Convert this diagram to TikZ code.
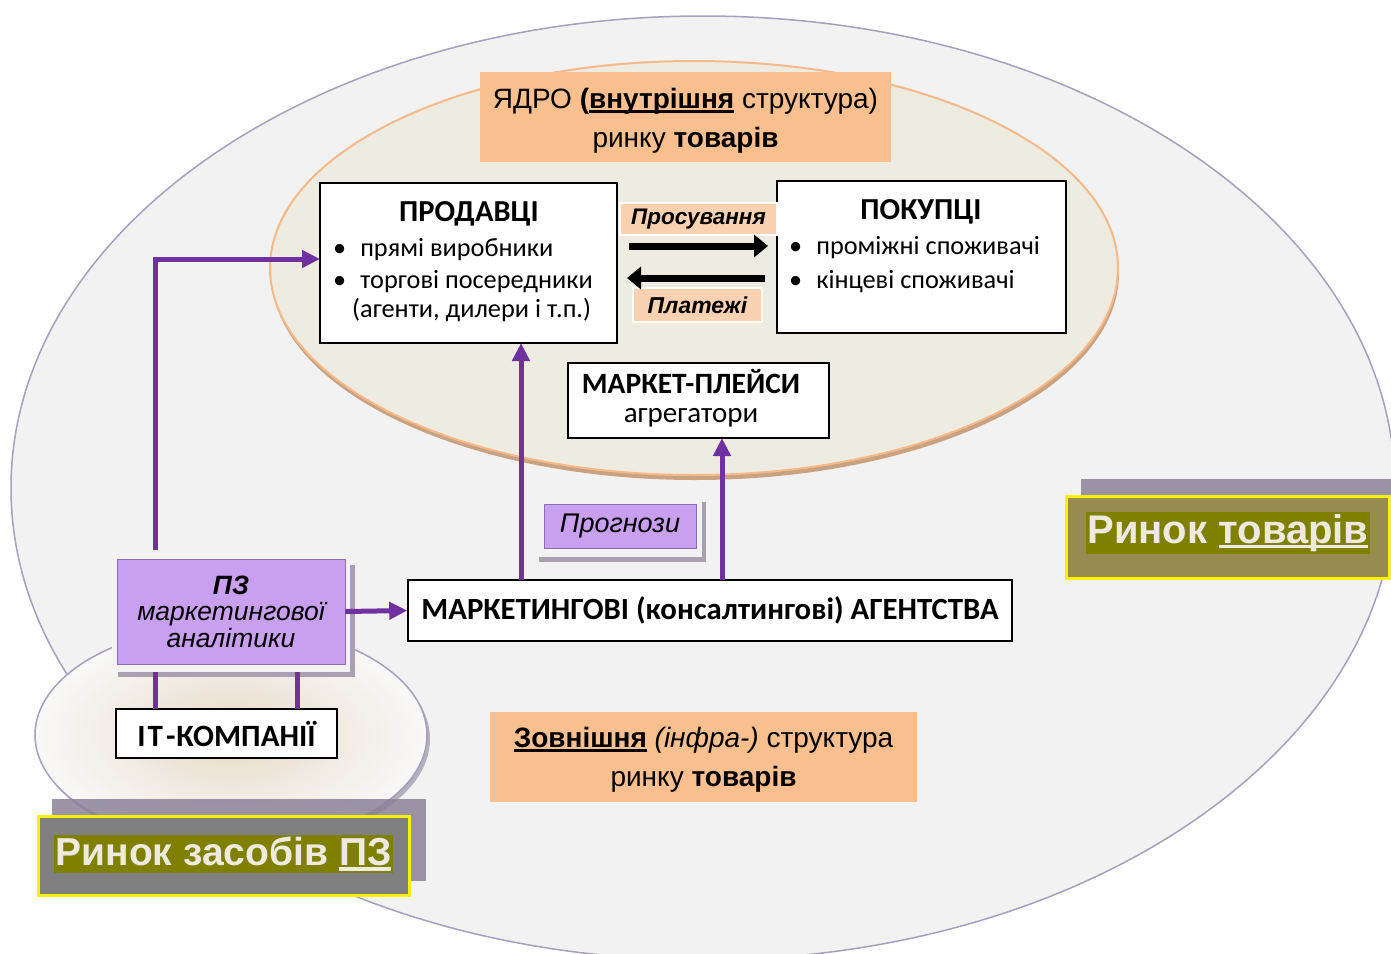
\documentclass[tikz,border=0pt]{standalone}
\usepackage{fontspec}
\setmainfont{Liberation Sans}
\newfontfamily\calfont{Carlito}
\usetikzlibrary{arrows.meta}
\newcommand\thickul[3]{\setbox0\hbox{#3}\leavevmode\rlap{\raisebox{-#1}{\rule{\wd0}{#2}}}\box0}
\definecolor{outerfill}{HTML}{F2F2F2}
\definecolor{outerline}{HTML}{A89FBF}
\definecolor{corefill}{HTML}{EEEBE0}
\definecolor{coreline}{HTML}{F7B98A}
\definecolor{coreshadow}{HTML}{C9A282}
\definecolor{peach}{HTML}{F9BF8F}
\definecolor{lpeach}{HTML}{FAD2B2}
\definecolor{lilac}{HTML}{C9A0F0}
\definecolor{lilacline}{HTML}{8E6CB4}
\definecolor{apurple}{HTML}{7030A0}
\definecolor{olivehl}{HTML}{808000}
\definecolor{olivebox}{HTML}{968C52}
\definecolor{cream}{HTML}{EEEADF}
\definecolor{graybox}{HTML}{808080}
\definecolor{shadowgray}{HTML}{8C8299}
\definecolor{frameshadow}{HTML}{A9A1B2}
\begin{document}
\begin{tikzpicture}[x=1pt,y=-1pt,
  whitebox/.style={draw=black, line width=1.6pt, fill=white},
  peachbox/.style={fill=peach},
  lbl/.style={fill=lpeach, draw=white, line width=1.5pt},
  parrow/.style={draw=apurple, line width=5pt, -{Triangle[length=18pt,width=17pt]}},
  pline/.style={draw=apurple, line width=5pt},
  barrow/.style={draw=black, line width=7pt, -{Triangle[length=14pt,width=22pt]}},
  title/.style={font=\calfont\bfseries\fontsize{30.5}{34}\selectfont, inner sep=0pt},
  item/.style={font=\calfont\fontsize{26.3}{30}\selectfont, inner sep=0pt, anchor=west},
  yel/.style={draw=yellow, line width=3pt},
  bigtxt/.style={font=\bfseries\fontsize{40}{46}\selectfont, text=cream, inner sep=0pt}
]
\useasboundingbox (0,0) rectangle (1391,953);
\clip (0,0) rectangle (1391,953);
\fill[white] (0,0) rectangle (1391,953);

% outer ellipse
\draw[fill=outerfill, draw=outerline, line width=1.5pt] (703,488) ellipse [x radius=692, y radius=472];

% core ellipse
\fill[coreshadow] (695,273) ellipse [x radius=424, y radius=207];
\draw[fill=corefill, draw=coreline, line width=2pt] (694,268) ellipse [x radius=424, y radius=207];

% small ellipse
\fill[outerline!70!black, opacity=0.5] (234,739) ellipse [x radius=196, y radius=110];
\shade[inner color=corefill!80!brown!90, outer color=outerfill!50!white] (231,735) ellipse [x radius=196, y radius=110];
\draw[outerline, line width=1.5pt] (231,735) ellipse [x radius=196, y radius=110];

% title core
\fill[peach] (480,72) rectangle (891,162);
\node[inner sep=0pt, align=center, font=\fontsize{28}{39}\selectfont] (core) at (685.5,121)
  {ЯДРО \textbf{(\thickul{4pt}{2.4pt}{внутрішня}} структура)\\ринку \textbf{товарів}};

% sellers
\draw[whitebox] (320,183) rectangle (617,343);
\coordinate (sellW) at (320,259);
\coordinate (sellS) at (521,343);
\node[title] (sellT) at (469,214) {ПРОДАВЦІ};
\node[item] (s1) at (333,250) {\textbullet\hspace{14pt}прямі виробники};
\node[item] (s2) at (333,282) {\textbullet\hspace{14pt}торгові посередники};
\node[item] (s3) at (352,310) {(агенти, дилери і т.п.)};

% buyers
\draw[whitebox] (777,181) rectangle (1066,333);
\node[title] (buyT) at (921,212) {ПОКУПЦІ};
\node[item] (b1) at (789,248) {\textbullet\hspace{14pt}проміжні споживачі};
\node[item] (b2) at (789,282) {\textbullet\hspace{14pt}кінцеві споживачі};

% labels and black arrows
\node[lbl, minimum width=157pt, minimum height=32pt, inner sep=0pt,
  font=\bfseries\itshape\fontsize{22.5}{26}\selectfont] (prom) at (698.5,219) {Просування};
\node[lbl, minimum width=129pt, minimum height=34pt, inner sep=0pt,
  font=\bfseries\itshape\fontsize{23}{26}\selectfont] (pay) at (697.5,305) {Платежі};
\coordinate (ra1) at (629,246);
\coordinate (ra2) at (768,246);
\coordinate (la1) at (765,278);
\coordinate (la2) at (627,278);
\draw[barrow] (ra1) -- (ra2);
\draw[barrow] (la1) -- (la2);

% marketplaces
\node[whitebox, minimum width=261pt, minimum height=75pt, inner sep=0pt] (mp) at (698.5,400.5) {};
\node[title, anchor=base, font=\calfont\bfseries\fontsize{29.5}{33}\selectfont] (mpT) at (691,393) {МАРКЕТ-ПЛЕЙСИ};
\node[inner sep=0pt, anchor=base, font=\calfont\fontsize{29}{33}\selectfont] (mpS) at (691,422) {агрегатори};
\coordinate (mpB) at (722,438);

% forecasts
\fill[frameshadow] (539,502) rectangle (706,562);
\fill[outerfill] (535,498) rectangle (702,557);
\node[fill=lilac, draw=lilacline, line width=1pt, minimum width=152pt, minimum height=44pt, inner sep=0pt,
  font=\itshape\fontsize{27}{30}\selectfont] (prog) at (620,526) {Прогнози};

% agencies
\node[whitebox, minimum width=604pt, minimum height=61pt, inner sep=0pt,
  font=\calfont\bfseries\fontsize{30.8}{34}\selectfont] (ag) at (710,610.5) {МАРКЕТИНГОВІ (консалтингові) АГЕНТСТВА};
\coordinate (agA) at (521,580);
\coordinate (agB) at (722,580);

% PZ box
\fill[frameshadow] (118,565) rectangle (355,677);
\fill[outerfill] (112,555) rectangle (350,672);
\node[fill=lilac, draw=lilacline, line width=0.8pt, minimum width=228pt, minimum height=105pt, inner sep=0pt,
  align=center, font=\itshape\fontsize{26.5}{26.5}\selectfont] (pz) at (231,611.5)
  {\textbf{ПЗ}\\маркетингової\\аналітики};
\coordinate (pzTop) at (155,550);
\coordinate (pzB1) at (155,672);
\coordinate (pzB2) at (297,672);

% IT companies
\node[whitebox, minimum width=221pt, minimum height=49pt, inner sep=0pt,
  font=\calfont\bfseries\fontsize{31}{34}\selectfont] (it) at (226.5,733.5) {І\hspace{2pt}Т\hspace{3pt}-\hspace{1pt}КОМПАНІЇ};
\coordinate (it1) at (155,709);
\coordinate (it2) at (297,709);

% purple connectors
\draw[parrow] (pzTop) |- (sellW);
\draw[parrow] (agA) -- (sellS);
\draw[parrow] (agB) -- (mpB);
\draw[parrow] (pz.east) -- (ag.west);
\draw[pline] (pzB1) -- (it1);
\draw[pline] (pzB2) -- (it2);

% external structure
\fill[peach] (490,712) rectangle (917,802);
\node[inner sep=0pt, align=center, font=\fontsize{28}{39}\selectfont] (ext) at (703.5,760)
  {\textbf{\thickul{4pt}{2.4pt}{Зовнішня}} {\itshape(інфра-)} структура\\ринку \textbf{товарів}};

% Market of goods
\fill[shadowgray, opacity=0.85] (1081,479) rectangle (1400,565);
\node[fill=olivebox, yel, minimum width=323pt, minimum height=82pt, inner sep=0pt] (mg) at (1228,537) {};
\node[bigtxt] (mgT) at (1228,533) {\setlength{\fboxsep}{2pt}\colorbox{olivehl}{Ринок \thickul{5pt}{3.5pt}{товарів}}};

% Market of software
\fill[shadowgray, opacity=0.85] (52,799) rectangle (426,881);
\node[fill=graybox, yel, minimum width=371pt, minimum height=79pt, inner sep=0pt] (ms) at (223.5,855.5) {};
\node[bigtxt, font=\bfseries\fontsize{39}{45}\selectfont] (msT) at (223.5,854) {\setlength{\fboxsep}{2pt}\colorbox{olivehl}{Ринок засобів \thickul{5pt}{3.5pt}{ПЗ}}};
\end{tikzpicture}
\end{document}
